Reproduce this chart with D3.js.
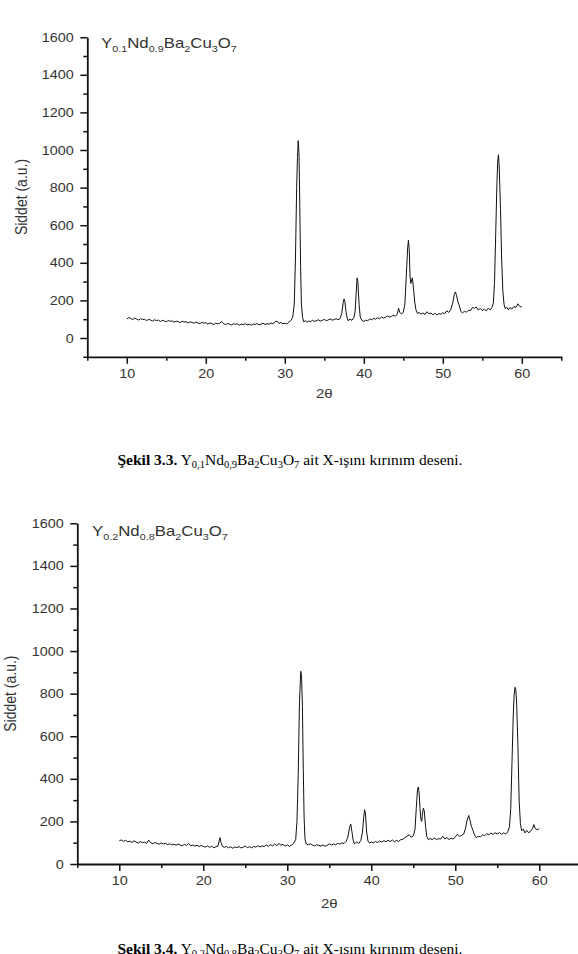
<!DOCTYPE html>
<html>
<head>
<meta charset="utf-8">
<script src="https://cdn.jsdelivr.net/npm/d3@7"></script>
<style>
  body { margin: 0; background: #fff; }
  svg { display: block; }
</style>
</head>
<body>
<div id="page"></div>
<script>
// tick values shared by both panels
const xMajor = [10, 20, 30, 40, 50, 60];
const xMinor = [5, 15, 25, 35, 45, 55, 65];
const yMajor = [0, 200, 400, 600, 800, 1000, 1200, 1400, 1600];
const yMinor = [-100, 100, 300, 500, 700, 900, 1100, 1300, 1500];

// Y0.1Nd0.9Ba2Cu3O7 scan, [2theta, intensity]
const scanA = [
  [10.0,101],[10.25,109],[10.5,104],[10.75,98],[11.0,106],[11.25,101],[11.5,95],[11.75,103],
  [12.0,98],[12.25,100],[12.5,92],[12.75,99],[13.0,96],[13.25,90],[13.5,97],[13.75,93],
  [14.0,95],[14.25,88],[14.5,94],[14.75,91],[15.0,86],[15.25,93],[15.5,89],[15.75,91],
  [16.0,84],[16.25,90],[16.5,87],[16.75,82],[17.0,89],[17.25,85],[17.5,87],[17.75,80],
  [18.0,86],[18.25,83],[18.5,78],[18.75,85],[19.0,80],[19.25,76],[19.5,83],[19.75,79],
  [20.0,81],[20.25,74],[20.5,80],[20.75,77],[21.0,72],[21.25,79],[21.5,75],[21.75,78],
  [22.0,88],[22.25,76],[22.5,71],[22.75,77],[23.0,74],[23.25,69],[23.5,76],[23.75,73],
  [24.0,75],[24.25,68],[24.5,74],[24.75,71],[25.0,76],[25.25,70],[25.5,73],[25.75,68],
  [26.0,75],[26.25,72],[26.5,77],[26.75,70],[27.0,74],[27.25,78],[27.5,72],[27.75,76],
  [28.0,73],[28.25,80],[28.5,75],[28.75,86],[29.0,90],[29.25,77],[29.5,83],[29.75,76],
  [30.0,79],[30.25,74],[30.5,84],[30.75,92],[31.0,110],[31.2,180],[31.35,420],[31.5,800],
  [31.6,960],[31.7,1050],[31.8,980],[31.9,700],[32.0,380],[32.1,180],[32.25,110],[32.4,86],
  [32.6,92],[32.8,84],[33.0,90],[33.25,87],[33.5,94],[33.75,89],[34.0,92],[34.25,97],
  [34.5,90],[34.75,94],[35.0,99],[35.25,92],[35.5,96],[35.75,101],[36.0,95],[36.25,98],
  [36.5,103],[36.75,97],[37.0,104],[37.2,130],[37.4,190],[37.5,208],[37.6,195],[37.75,140],
  [37.9,105],[38.0,92],[38.25,100],[38.5,94],[38.75,108],[38.9,140],[39.05,250],[39.15,320],
  [39.25,300],[39.4,180],[39.55,112],[39.75,94],[40.0,88],[40.25,95],[40.5,92],[40.75,101],
  [41.0,97],[41.25,104],[41.5,100],[41.75,108],[42.0,103],[42.25,112],[42.5,106],[42.75,110],
  [43.0,117],[43.25,111],[43.5,115],[43.75,121],[44.0,116],[44.25,128],[44.4,158],[44.55,136],
  [44.8,128],[45.0,138],[45.2,180],[45.4,350],[45.55,480],[45.65,520],[45.75,470],[45.85,330],
  [45.95,290],[46.05,310],[46.15,320],[46.3,260],[46.45,190],[46.6,150],[46.8,130],[47.0,136],
  [47.25,127],[47.5,133],[47.75,125],[48.0,140],[48.25,129],[48.5,132],[48.75,124],[49.0,131],
  [49.25,122],[49.5,130],[49.75,127],[50.0,134],[50.25,130],[50.5,145],[50.75,136],[51.0,150],
  [51.25,185],[51.45,230],[51.6,245],[51.75,225],[51.9,195],[52.1,170],[52.3,140],[52.5,134],
  [52.75,142],[53.0,137],[53.25,148],[53.5,145],[53.75,163],[54.0,158],[54.25,164],[54.5,149],
  [54.75,157],[55.0,146],[55.25,154],[55.5,144],[55.75,158],[56.0,150],[56.2,162],[56.4,185],
  [56.55,300],[56.7,560],[56.85,820],[56.95,940],[57.05,975],[57.15,900],[57.3,690],[57.45,420],
  [57.6,250],[57.75,180],[57.9,156],[58.1,164],[58.3,150],[58.5,162],[58.75,154],[59.0,168],
  [59.25,162],[59.5,182],[59.75,168],[60.0,165]
];

// Y0.2Nd0.8Ba2Cu3O7 scan, [2theta, intensity]
const scanB = [
  [10.0,109],[10.25,113],[10.5,106],[10.75,111],[11.0,104],[11.25,107],[11.5,101],[11.75,109],
  [12.0,103],[12.25,98],[12.5,105],[12.75,100],[13.0,103],[13.25,97],[13.5,112],[13.75,99],
  [14.0,95],[14.25,101],[14.5,97],[14.75,93],[15.0,99],[15.25,94],[15.5,97],[15.75,91],
  [16.0,95],[16.25,90],[16.5,93],[16.75,88],[17.0,94],[17.25,89],[17.5,86],[17.75,92],
  [18.0,87],[18.25,97],[18.5,85],[18.75,89],[19.0,84],[19.25,88],[19.5,82],[19.75,87],
  [20.0,83],[20.25,79],[20.5,85],[20.75,78],[21.0,83],[21.25,76],[21.5,81],[21.75,84],
  [21.9,110],[22.0,124],[22.1,100],[22.3,82],[22.5,78],[22.75,83],[23.0,76],[23.25,81],
  [23.5,74],[23.75,80],[24.0,77],[24.25,82],[24.5,75],[24.75,79],[25.0,84],[25.25,77],
  [25.5,81],[25.75,76],[26.0,83],[26.25,79],[26.5,86],[26.75,80],[27.0,85],[27.25,82],
  [27.5,89],[27.75,83],[28.0,91],[28.25,85],[28.5,94],[28.75,86],[29.0,97],[29.25,88],
  [29.5,92],[29.75,84],[30.0,90],[30.25,83],[30.5,89],[30.75,96],[31.0,115],[31.15,200],
  [31.3,420],[31.45,760],[31.6,905],[31.7,880],[31.8,740],[31.9,450],[32.0,220],[32.1,120],
  [32.25,94],[32.5,90],[32.75,95],[33.0,89],[33.25,85],[33.5,91],[33.75,87],[34.0,84],
  [34.25,89],[34.5,83],[34.75,88],[35.0,95],[35.25,89],[35.5,94],[35.75,90],[36.0,97],
  [36.25,93],[36.5,99],[36.75,96],[37.0,106],[37.2,125],[37.4,170],[37.55,188],[37.7,150],
  [37.85,110],[38.0,94],[38.25,104],[38.5,96],[38.75,110],[38.95,150],[39.1,220],[39.2,255],
  [39.3,240],[39.45,150],[39.6,108],[39.8,98],[40.0,103],[40.25,99],[40.5,106],[40.75,101],
  [41.0,108],[41.25,103],[41.5,110],[41.75,104],[42.0,112],[42.25,105],[42.5,113],[42.75,104],
  [43.0,111],[43.25,106],[43.5,114],[43.75,116],[44.0,124],[44.25,130],[44.5,138],[44.75,126],
  [45.0,132],[45.2,160],[45.35,260],[45.5,350],[45.6,362],[45.7,330],[45.8,260],[45.9,210],
  [46.0,200],[46.1,240],[46.2,262],[46.3,250],[46.45,180],[46.6,130],[46.8,114],[47.0,120],
  [47.25,114],[47.5,122],[47.75,115],[48.0,119],[48.25,117],[48.5,130],[48.75,118],[49.0,124],
  [49.25,115],[49.5,121],[49.75,117],[50.0,127],[50.25,140],[50.5,130],[50.75,134],[51.0,140],
  [51.2,165],[51.4,205],[51.6,228],[51.75,205],[51.9,180],[52.1,158],[52.3,136],[52.5,124],
  [52.75,130],[53.0,128],[53.25,137],[53.5,133],[53.75,143],[54.0,137],[54.25,146],[54.5,139],
  [54.75,147],[55.0,141],[55.25,148],[55.5,139],[55.75,146],[56.0,141],[56.25,151],[56.45,175],
  [56.6,260],[56.75,480],[56.9,700],[57.0,790],[57.1,830],[57.2,820],[57.3,760],[57.45,560],
  [57.6,300],[57.75,190],[57.9,156],[58.1,164],[58.3,146],[58.5,158],[58.75,146],[59.0,158],
  [59.2,165],[59.35,185],[59.5,168],[59.75,160],[60.0,166]
];

// formula pieces: [text, kind] (0 normal, 1 subscript, 2 bold)
const formulaA = [["Y",0],["0.1",1],["Nd",0],["0.9",1],["Ba",0],["2",1],["Cu",0],["3",1],["O",0],["7",1]];
const formulaB = [["Y",0],["0.2",1],["Nd",0],["0.8",1],["Ba",0],["2",1],["Cu",0],["3",1],["O",0],["7",1]];
const captionA = [["Şekil 3.3.",2],[" Y",0],["0,1",1],["Nd",0],["0,9",1],["Ba",0],["2",1],["Cu",0],["3",1],["O",0],["7",1],[" ait X-ışını kırınım deseni.",0]];
const captionB = [["Şekil 3.4.",2],[" Y",0],["0,2",1],["Nd",0],["0,8",1],["Ba",0],["2",1],["Cu",0],["3",1],["O",0],["7",1],[" ait X-ışını kırınım deseni.",0]];

const W = 578, H = 954;
const sans = "'Liberation Sans', Arial, sans-serif";
const serif = "'Liberation Serif', 'Times New Roman', serif";
const stretch = 1.15; // the scanned figure is a bit wider than tall

const svg = d3.select("#page").append("svg")
  .attr("width", W).attr("height", H);
svg.append("rect").attr("width", W).attr("height", H).attr("fill", "#fff");

function drawPanel(cfg) {
  const x = d3.scaleLinear().domain([5, 65]).range(cfg.xRange);
  const y = d3.scaleLinear().domain(cfg.yDomain).range(cfg.yRange);
  const g = svg.append("g");
  const axisY = y.range()[0];
  const axisX = x.range()[0];

  // data first so axes sit on top
  g.append("path")
    .datum(cfg.scan)
    .attr("fill", "none")
    .attr("stroke", "#111")
    .attr("stroke-width", 1)
    .attr("stroke-linejoin", "round")
    .attr("d", d3.line().x(d => x(d[0])).y(d => y(d[1])));

  // minor ticks
  g.append("g").attr("transform", `translate(0,${axisY})`)
    .call(d3.axisBottom(x).tickValues(xMinor).tickSize(4).tickSizeOuter(0).tickFormat(""))
    .call(a => a.select(".domain").remove());
  g.append("g").attr("transform", `translate(${axisX},0)`)
    .call(d3.axisLeft(y).tickValues(yMinor.filter(v => v >= cfg.yDomain[0])).tickSize(4).tickSizeOuter(0).tickFormat(""))
    .call(a => a.select(".domain").remove());

  // major ticks + labels
  const gx = g.append("g").attr("transform", `translate(0,${axisY})`)
    .call(d3.axisBottom(x).tickValues(xMajor).tickSize(7).tickPadding(5).tickSizeOuter(0).tickFormat(d3.format("d")));
  const gy = g.append("g").attr("transform", `translate(${axisX},0)`)
    .call(d3.axisLeft(y).tickValues(yMajor).tickSize(7).tickSizeOuter(0).tickFormat(d3.format("d")));

  [gx, gy].forEach(a => {
    a.selectAll(".domain").attr("stroke", "#111").attr("stroke-width", 1.8);
    a.selectAll("text")
      .attr("font-family", sans).attr("font-size", 12.5).attr("fill", "#333");
  });
  g.selectAll(".tick line").attr("stroke", "#111").attr("stroke-width", 1.5);
  gx.selectAll("text").attr("transform", `scale(${stretch},1)`);
  gy.selectAll("text")
    .attr("x", -13.5 / stretch)
    .attr("transform", `scale(${stretch},1)`);

  // axis titles
  g.append("text")
    .attr("transform", `translate(${x(35)},${cfg.xTitleY}) scale(${stretch},1)`)
    .attr("text-anchor", "middle")
    .attr("font-family", sans).attr("font-size", 13).attr("fill", "#333")
    .text("2θ");
  g.append("text")
    .attr("transform", `translate(${cfg.yTitleX},${(y.range()[0] + y.range()[1]) / 2}) rotate(-90) scale(1,${stretch})`)
    .attr("text-anchor", "middle")
    .attr("dy", "0.35em")
    .attr("font-family", sans).attr("font-size", 14).attr("fill", "#333")
    .text("Siddet (a.u.)");

  // formula label inside the plot
  const t = g.append("text")
    .attr("transform", `translate(${cfg.titlePos[0]},${cfg.titlePos[1]}) scale(1.2,1)`)
    .attr("font-family", sans).attr("fill", "#333");
  addPieces(t, cfg.formula, 14, 9, 4);

  // caption under the plot
  const c = svg.append("text")
    .attr("x", 290).attr("y", cfg.captionY)
    .attr("text-anchor", "middle")
    .attr("font-family", serif).attr("fill", "#000");
  addPieces(c, cfg.caption, 15.5, 10.5, 3);
}

function addPieces(textSel, pieces, size, subSize, shift) {
  let low = false;
  pieces.forEach(([str, kind]) => {
    const sp = textSel.append("tspan").text(str);
    if (kind === 1) {
      sp.attr("font-size", subSize).attr("dy", low ? 0 : shift);
      low = true;
    } else {
      sp.attr("font-size", size).attr("dy", low ? -shift : 0);
      if (kind === 2) sp.attr("font-weight", "bold");
      low = false;
    }
  });
}

drawPanel({
  scan: scanA,
  xRange: [87.3, 561.3],
  yDomain: [-100, 1600],
  yRange: [356.8, 37.2],
  xTitleY: 398,
  yTitleX: 21,
  titlePos: [101, 48],
  formula: formulaA,
  caption: captionA,
  captionY: 465
});

drawPanel({
  scan: scanB,
  xRange: [77.3, 581.3],
  yDomain: [0, 1600],
  yRange: [864, 523.3],
  xTitleY: 908,
  yTitleX: 10,
  titlePos: [92, 536],
  formula: formulaB,
  caption: captionB,
  captionY: 954
});
</script>
</body>
</html>
